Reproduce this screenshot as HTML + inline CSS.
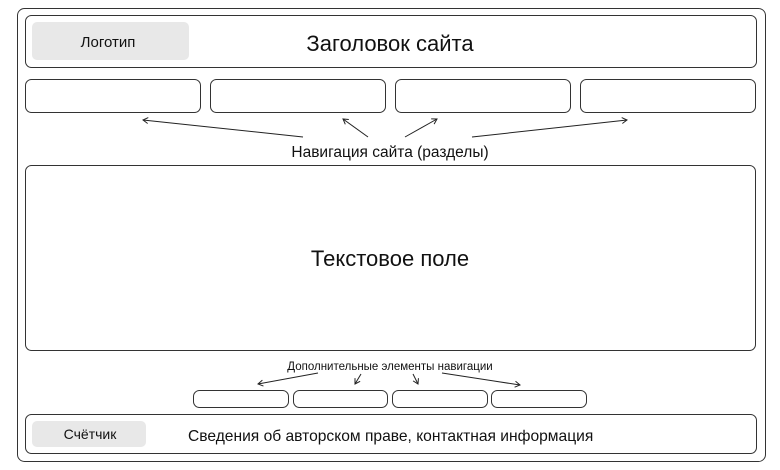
<!DOCTYPE html>
<html><head><meta charset="utf-8"><style>
html,body{margin:0;padding:0;background:#fff;width:780px;height:470px;overflow:hidden}
text{font-family:"Liberation Sans","DejaVu Sans",sans-serif;fill:#111}
</style></head><body>
<svg width="780" height="470" viewBox="0 0 780 470" xmlns="http://www.w3.org/2000/svg">
<defs><marker id="a" markerWidth="8" markerHeight="8" refX="6" refY="4" orient="auto" markerUnits="userSpaceOnUse"><path d="M1,1 L6,4 L1,7" fill="none" stroke="#222" stroke-width="1"/></marker></defs>
<g fill="none" stroke="#333" stroke-width="1">
<rect x="17.5" y="8.5" width="748" height="453" rx="7"/>
<rect x="25.5" y="15.5" width="731" height="52" rx="6"/>
<rect x="25.5" y="79.5" width="175" height="33" rx="6"/>
<rect x="210.5" y="79.5" width="175" height="33" rx="6"/>
<rect x="395.5" y="79.5" width="175" height="33" rx="6"/>
<rect x="580.5" y="79.5" width="175" height="33" rx="6"/>
<rect x="25.5" y="165.5" width="730" height="185" rx="6"/>
<rect x="193.5" y="390.5" width="95" height="17" rx="6"/>
<rect x="293.5" y="390.5" width="94" height="17" rx="6"/>
<rect x="392.5" y="390.5" width="95" height="17" rx="6"/>
<rect x="491.5" y="390.5" width="95" height="17" rx="6"/>
<rect x="25.5" y="414.5" width="731" height="39" rx="6"/>
</g>
<rect x="32" y="22" width="157" height="38" rx="5" fill="#e8e8e8"/>
<rect x="32" y="421" width="114" height="26" rx="5" fill="#e8e8e8"/>
<g stroke="#222" stroke-width="1" fill="none" marker-end="url(#a)">
<line x1="303" y1="137" x2="143" y2="120"/>
<line x1="368" y1="137" x2="343" y2="119"/>
<line x1="405" y1="137" x2="437" y2="119"/>
<line x1="472" y1="137" x2="627" y2="120"/>
<line x1="318" y1="373" x2="258" y2="384"/>
<line x1="361" y1="374" x2="355" y2="384"/>
<line x1="413" y1="374" x2="418" y2="384"/>
<line x1="442" y1="373" x2="520" y2="385"/>
</g>
<text x="108" y="47" font-size="15" text-anchor="middle">Логотип</text>
<text x="390" y="51" font-size="22" text-anchor="middle">Заголовок сайта</text>
<text x="390" y="157" font-size="15.5" text-anchor="middle">Навигация сайта (разделы)</text>
<text x="390" y="266" font-size="22" text-anchor="middle">Текстовое поле</text>
<text x="390" y="370" font-size="11.5" text-anchor="middle">Дополнительные элементы навигации</text>
<text x="90" y="439" font-size="14" text-anchor="middle">Счётчик</text>
<text x="188" y="441" font-size="15.6">Сведения об авторском праве, контактная информация</text>
</svg>
</body></html>
